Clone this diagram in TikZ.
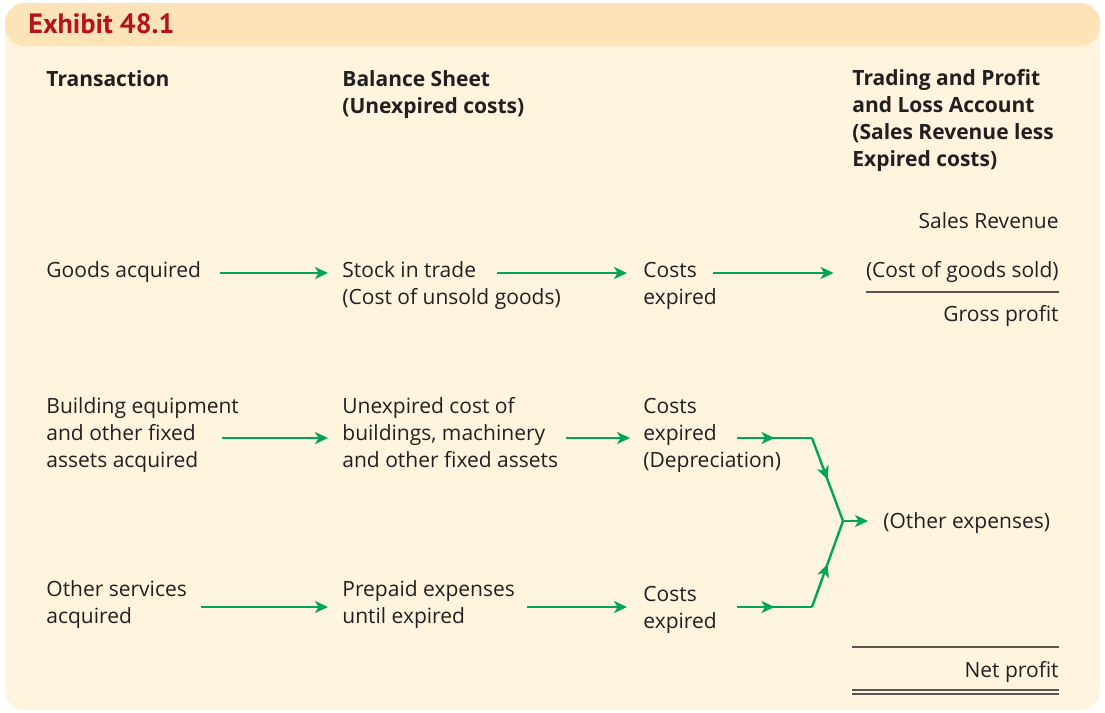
\documentclass[tikz,border=0pt]{standalone}
\usepackage{fontspec}
\setmainfont{Open Sans}
\newfontfamily\titlefont{PT Sans}
\usetikzlibrary{arrows.meta,calc,decorations.markings}
\definecolor{cream}{HTML}{FFF4DE}
\definecolor{bar}{HTML}{FDE3B8}
\definecolor{exred}{HTML}{B5121B}
\definecolor{flowgreen}{HTML}{00A651}
\definecolor{ink}{HTML}{231F20}
\definecolor{rulegray}{HTML}{5A5550}

\begin{document}
\begin{tikzpicture}[x=0.5pt,y=-0.5pt,
    txt/.style={anchor=base west,inner sep=0pt,align=left,text=ink,
      font=\fontsize{10.5pt}{13.4pt}\selectfont},
    head/.style={txt,font=\fontsize{10.5pt}{13.4pt}\selectfont\bfseries},
    num/.style={txt,anchor=base east,align=right},
    flow/.style={color=flowgreen,line width=1.2pt,
      -{Stealth[length=6.5pt,width=6pt,inset=1.8pt]}},
    mid/.style={color=flowgreen,line width=1.2pt,postaction={decorate},
      decoration={markings,mark=at position 0.5 with
        {\arrow{Stealth[length=6.5pt,width=6pt,inset=1.8pt]}}}},
    rule/.style={draw=rulegray,line width=0.8pt}]
  % frame and title bar
  \useasboundingbox (0,0) rectangle (1105,713);
  \fill[cream,rounded corners=10pt] (5,3) rectangle (1100,710);
  \fill[bar,rounded corners=10pt] (5,3) rectangle (1100,46);
  \node [anchor=base west,inner sep=0pt,text=exred,
    font=\titlefont\fontsize{14pt}{16pt}\selectfont\bfseries] (title) at (28,33) {Exhibit 48.1};

  % column headings (a node's base is its last line)
  \node [head] (trans) at (46,86) {Transaction};
  \node [head] (bs) at (342,113) {Balance Sheet\\(Unexpired costs)};
  \node [head] (tpl) at (852,166) {Trading and Profit\\and Loss Account\\(Sales Revenue less\\Expired costs)};

  % goods
  \node [num] (sales) at (1059,228) {Sales Revenue};
  \node [txt] (goods) at (46,277) {Goods acquired};
  \node [txt] (stock) at (342,304) {Stock in trade\\(Cost of unsold goods)};
  \node [txt] (costsa) at (643,304) {Costs\\expired};
  \node [num] (cogs) at (1059,277) {(Cost of goods sold)};
  \node [num] (gross) at (1059,321) {Gross profit};

  % fixed assets
  \node [txt] (bldg) at (46,467) {Building equipment\\and other fixed\\assets acquired};
  \node [txt] (unexp) at (342,467) {Unexpired cost of\\buildings, machinery\\and other fixed assets};
  \node [txt] (dep) at (643,467) {Costs\\expired\\(Depreciation)};
  \node [txt] (oexp) at (883,528) {(Other expenses)};

  % services
  \node [txt] (serv) at (46,623) {Other services\\acquired};
  \node [txt] (prep) at (342,623) {Prepaid expenses\\until expired};
  \node [txt] (costsc) at (643,628) {Costs\\expired};
  \node [num] (net) at (1059,677) {Net profit};

  % joints of the expense arrows
  \coordinate (depout) at ($(dep.base west)+(94,-29)$);
  \coordinate (servout) at ($(costsc.base west)+(94,-21)$);
  \coordinate (topk) at (812,438);
  \coordinate (botk) at (812,607);
  \coordinate (join) at (843,521);

  \draw [flow] ($(goods.base east)+(19,-4)$) -- ($(stock.base west)+(-14,-31)$);
  \draw [flow] ($(stock.base west)+(155,-31)$) -- ($(costsa.base west)+(-16,-31)$);
  \draw [flow] ($(costsa.base west)+(70,-31)$) -- ($(cogs.base west)+(-32,-4)$);

  \draw [flow] ($(bldg.base west)+(176,-29)$) -- ($(unexp.base west)+(-14,-29)$);
  \draw [flow] ($(unexp.base west)+(224,-29)$) -- ($(dep.base west)+(-13,-29)$);
  \draw [mid] (depout) -- (topk);
  \draw [mid] (topk) -- (join);

  \draw [flow] ($(serv.base west)+(155,-16)$) -- ($(prep.base west)+(-14,-16)$);
  \draw [flow] ($(prep.base west)+(185,-16)$) -- ($(costsc.base west)+(-16,-21)$);
  \draw [mid] (servout) -- (botk);
  \draw [mid] (botk) -- (join);
  \draw [flow] (join) -- ($(oexp.base west)+(-15,-7)$);

  % totals
  \draw [rule] ($(cogs.base west)+(0,15)$) -- ($(cogs.base east)+(0,15)$);
  \draw [rule] ($(tpl.base west |- net.base)+(0,-30)$) -- ($(net.base east)+(0,-30)$);
  \draw [rule] ($(tpl.base west |- net.base)+(0,13)$) -- ($(net.base east)+(0,13)$);
  \draw [rule] ($(tpl.base west |- net.base)+(0,17)$) -- ($(net.base east)+(0,17)$);
\end{tikzpicture}
\end{document}
